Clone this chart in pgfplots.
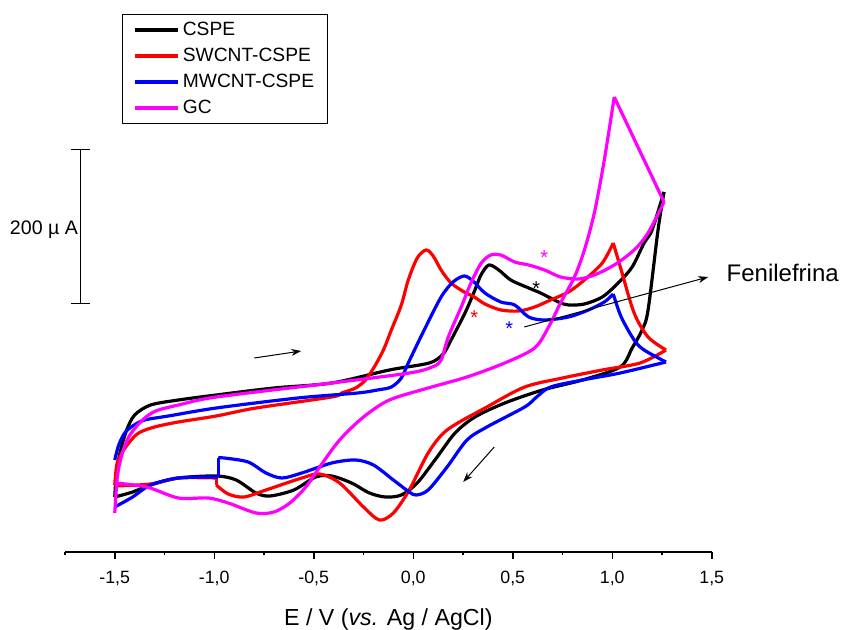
\documentclass[border=0pt]{standalone}
\usepackage{pgfplots}
\pgfplotsset{compat=1.18}
\usepackage{fontspec}
\setmainfont{Liberation Sans}
\usetikzlibrary{arrows.meta}
\definecolor{cvred}{RGB}{255,0,0}
\definecolor{cvblue}{RGB}{0,0,255}
\definecolor{cvmag}{RGB}{255,0,255}
\pgfplotsset{
  cv/.style={line width=1.6pt, smooth, tension=0.5},
  cvs/.style={line width=1.6pt, forget plot},
}
\begin{document}
\begin{tikzpicture}
\useasboundingbox (-32.5pt,-39pt) rectangle (390pt,276pt);
\begin{axis}[
  x=99.5pt, y=0.385pt,
  xmin=-1.75, xmax=1.5, ymin=-67.53, ymax=636.36,
  clip=false,
  % currents are read as picture rows and turned into microamperes (200 uA = 154 rows)
  y filter/.expression={(500-y)*1.2987013},
  axis x line=bottom, axis y line=none,
  x axis line style={-, line width=0.75pt},
  xtick={-1.5,-1,...,1.5},
  minor xtick={-1.75,-1.25,...,1.25},
  tick align=outside,
  major tick length=3.5pt, minor tick length=1.75pt,
  every tick/.style={black, line width=0.75pt},
  /pgf/number format/use comma,
  /pgf/number format/fixed,
  /pgf/number format/fixed zerofill,
  /pgf/number format/precision=1,
  /pgf/number format/assume math mode=true,
  xticklabel style={font=\fontsize{8.9}{10}\selectfont, yshift=-2.5pt},
  xlabel={E / V (\textit{vs.} Ag / AgCl)},
  xlabel style={font=\fontsize{11.6}{13}\selectfont, at={(axis description cs:0.5,0)}, anchor=base, yshift=-37pt},
  legend style={at={(0.0881,0.9917)}, anchor=north west, draw=black, line width=0.5pt, fill=white,
    font=\fontsize{9.6}{11}\selectfont, inner xsep=5.5pt, inner ysep=1.2pt, row sep=0pt,
    nodes={inner sep=1.2pt, text height=8pt, text depth=2.5pt}},
  legend cell align=left,
  legend image code/.code={\draw[#1, line width=2pt] (0pt,0pt) -- (21.5pt,0pt);},
  line join=round,
]
% ---------------- CSPE ----------------
\addplot[black, cv] table[row sep=\\] {
E I\\
-1.50 497\\ -1.49 470\\ -1.47 450\\ -1.44 430\\ -1.40 415\\ -1.32 405\\ -1.18 400\\ -0.99 395\\
-0.70 388\\ -0.41 383\\ -0.12 370\\ 0.08 363\\ 0.15 354\\ 0.19 340\\ 0.26 313\\ 0.31 290\\
0.34 275\\ 0.38 265\\ 0.43 270\\ 0.49 280\\ 0.58 288\\ 0.64 293\\ 0.73 302\\
0.78 305\\ 0.86 304\\ 0.95 297\\ 1.03 283\\ 1.10 267\\ 1.16 243\\ 1.20 230\\ 1.26 192\\
};
\addlegendentry{CSPE}
\addplot[black, cv, forget plot] table[row sep=\\] {
E I\\
1.26 192\\ 1.23 230\\ 1.18 310\\ 1.15 330\\ 1.10 348\\ 1.04 367\\ 0.85 380\\ 0.65 390\\ 0.46 403\\
0.31 417\\ 0.21 433\\ 0.12 457\\ 0.02 483\\ -0.06 495\\ -0.14 497\\ -0.22 493\\ -0.31 483\\
-0.41 476\\ -0.49 477\\ -0.60 490\\ -0.72 496\\ -0.79 493\\ -0.89 480\\ -0.99 476\\ -1.18 478\\
-1.32 485\\ -1.41 492\\ -1.50 497\\
};
% ---------------- SWCNT-CSPE ----------------
\addplot[cvred, cv] table[row sep=\\] {
E I\\
-1.50 485\\ -1.49 465\\ -1.47 455\\ -1.43 443\\ -1.38 433\\ -1.30 427\\ -1.18 422\\ -0.99 416\\
-0.79 408\\ -0.41 397\\ -0.36 393\\ -0.29 388\\ -0.24 380\\ -0.196 367\\ -0.15 350\\ -0.11 330\\
-0.06 305\\ -0.025 280\\ 0.02 258\\ 0.065 250\\ 0.10 256\\ 0.14 270\\ 0.19 283\\ 0.256 292\\
0.307 297\\ 0.36 304\\ 0.44 310\\ 0.53 311\\ 0.61 307\\ 0.69 300\\ 0.78 292\\ 0.86 280\\ 0.95 263\\
1.005 243\\
};
\addlegendentry{SWCNT-CSPE}
\addplot[cvred, cv, forget plot] table[row sep=\\] {
E I\\
1.005 243\\ 1.045 270\\ 1.11 313\\ 1.18 337\\ 1.27 350\\
};
\addplot[cvred, cv, forget plot] table[row sep=\\] {
E I\\
1.27 350\\ 1.14 363\\ 0.95 370\\ 0.75 378\\ 0.56 387\\ 0.37 407\\ 0.17 430\\ 0.075 453\\ -0.02 490\\
-0.10 513\\ -0.17 520\\ -0.25 507\\ -0.37 483\\ -0.47 474\\ -0.56 478\\ -0.74 490\\ -0.85 497\\
-0.93 494\\ -0.99 485\\
};
\addplot[cvred, cvs] table[row sep=\\] {
E I\\
-0.99 485\\ -0.99 478\\
};
\addplot[cvred, cv, forget plot] table[row sep=\\] {
E I\\
-0.99 478\\ -1.18 478\\ -1.32 484\\ -1.50 486\\
};
% ---------------- MWCNT-CSPE ----------------
\addplot[cvblue, cv] table[row sep=\\] {
E I\\
-1.50 460\\ -1.48 445\\ -1.45 433\\ -1.41 426\\ -1.35 420\\ -1.23 416\\ -0.99 408\\ -0.58 398\\
-0.28 393\\ -0.18 390\\ -0.11 387\\ -0.06 378\\ -0.025 363\\ 0.055 330\\ 0.14 297\\ 0.20 282\\
0.256 276\\ 0.30 281\\ 0.36 293\\ 0.44 302\\ 0.51 305\\ 0.58 317\\ 0.66 320\\ 0.78 317\\
0.88 310\\ 0.96 302\\ 1.005 294\\
};
\addlegendentry{MWCNT-CSPE}
\addplot[cvblue, cv, forget plot] table[row sep=\\] {
E I\\
1.005 294\\ 1.045 317\\ 1.11 340\\ 1.16 350\\ 1.27 362\\
};
\addplot[cvblue, cv, forget plot] table[row sep=\\] {
E I\\
1.27 362\\ 1.04 373\\ 0.85 380\\ 0.69 387\\ 0.62 397\\ 0.56 407\\ 0.37 427\\ 0.27 440\\ 0.17 467\\
0.075 490\\ 0.015 495\\ -0.02 492\\ -0.10 480\\ -0.20 465\\ -0.29 460\\ -0.41 463\\ -0.56 473\\
-0.66 478\\ -0.74 473\\ -0.83 462\\ -0.95 458\\ -0.98 458\\
};
\addplot[cvblue, cvs] table[row sep=\\] {
E I\\
-0.98 458\\ -0.98 477\\
};
\addplot[cvblue, cv, forget plot] table[row sep=\\] {
E I\\
-0.98 477\\ -1.18 478\\ -1.32 485\\ -1.41 497\\ -1.50 507\\
};
% ---------------- GC ----------------
\addplot[cvmag, cv] table[row sep=\\] {
E I\\
-1.50 513\\ -1.49 483\\ -1.48 468\\ -1.46 452\\ -1.43 437\\ -1.38 424\\ -1.33 415\\ -1.28 410\\
-1.18 405\\ -0.99 397\\ -0.41 383\\ -0.02 373\\ 0.095 367\\ 0.14 360\\ 0.176 337\\ 0.241 307\\
0.29 283\\ 0.342 263\\ 0.39 255\\ 0.44 255\\ 0.51 262\\ 0.58 265\\ 0.66 270\\ 0.74 277\\
0.83 279\\ 0.91 275\\ 1.01 265\\ 1.11 250\\ 1.18 233\\ 1.26 202\\
};
\addlegendentry{GC}
\addplot[cvmag, cvs] table[row sep=\\] {
E I\\
1.26 202\\ 1.01 97\\
};
\addplot[cvmag, cv, forget plot] table[row sep=\\] {
E I\\
1.01 97\\ 0.96 160\\ 0.91 213\\ 0.86 250\\ 0.81 277\\ 0.74 303\\ 0.68 327\\ 0.61 348\\ 0.46 363\\ 0.27 377\\
0.075 388\\ -0.12 400\\ -0.25 417\\ -0.37 440\\ -0.47 467\\ -0.54 487\\ -0.62 503\\ -0.70 512\\
-0.79 513\\ -0.93 503\\ -1.03 498\\ -1.18 498\\ -1.34 487\\ -1.50 483\\
};
% scale bar (200 uA)
\draw[line width=0.6pt] (axis cs:-1.673,455) -- (axis cs:-1.673,255);
\draw[line width=0.6pt] (axis cs:-1.721,455) -- (axis cs:-1.625,455);
\draw[line width=0.6pt] (axis cs:-1.721,255) -- (axis cs:-1.625,255);
\node[anchor=east, font=\fontsize{9.8}{11}\selectfont, inner sep=0pt] at (axis cs:-1.683,351) {200 µ A};
% arrows
\draw[line width=0.5pt, -{Stealth[length=5pt,width=3.5pt]}] (axis cs:-0.799,184.4) -- (axis cs:-0.563,193.5);
\draw[line width=0.5pt, -{Stealth[length=5pt,width=3.5pt]}] (axis cs:0.407,68.8) -- (axis cs:0.251,23.4);
\draw[line width=0.5pt, -{Stealth[length=5pt,width=3.5pt]}] (axis cs:0.558,224.7) -- (axis cs:1.482,289.6);
\node[anchor=west, font=\fontsize{12}{14}\selectfont, inner sep=0pt] at (axis cs:1.573,294.8) {Fenilefrina};
% asterisks
\node[anchor=base, cvmag, font=\fontsize{10}{12}\selectfont, inner sep=0pt] at (axis cs:0.658,305.7) {*};
\node[anchor=base, black, font=\fontsize{10}{12}\selectfont, inner sep=0pt] at (axis cs:0.618,265.4) {*};
\node[anchor=base, cvred, font=\fontsize{10}{12}\selectfont, inner sep=0pt] at (axis cs:0.307,227.8) {*};
\node[anchor=base, cvblue, font=\fontsize{10}{12}\selectfont, inner sep=0pt] at (axis cs:0.482,213.5) {*};
\end{axis}
\end{tikzpicture}
\end{document}
